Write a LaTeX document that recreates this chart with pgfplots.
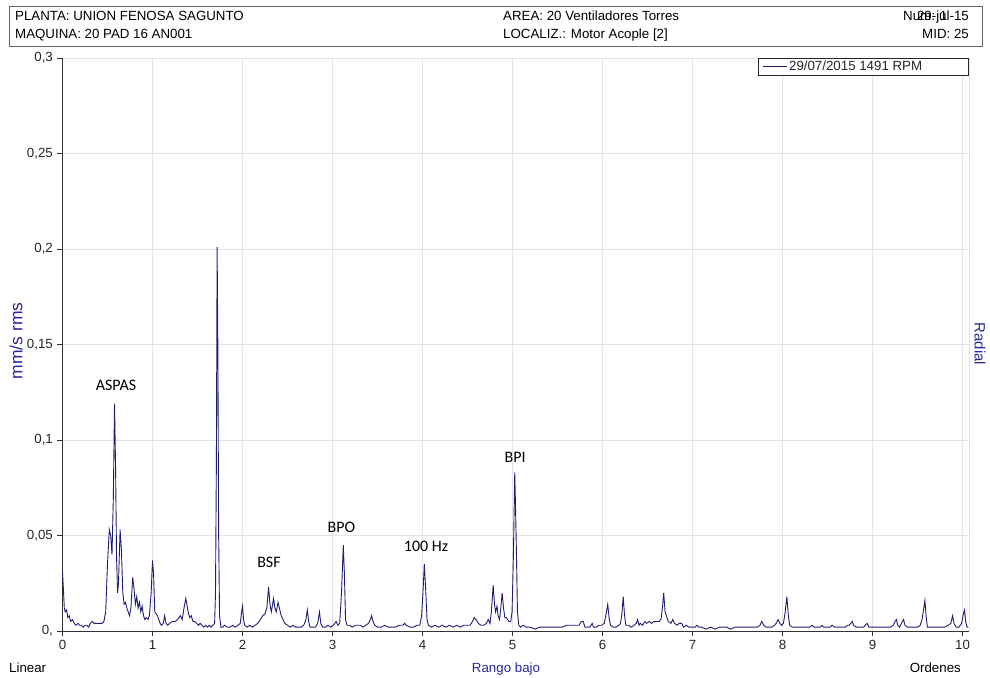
\documentclass[border=0pt]{standalone}
\usepackage{pgfplots}
\pgfplotsset{compat=1.18}
\usepackage{pgfplotstable}
\usepackage{fontspec}
\setmainfont{Liberation Sans}
\newfontfamily\calib{Carlito}
\definecolor{specline}{RGB}{30,30,115}
\definecolor{labblue}{RGB}{40,40,150}
\definecolor{gridgray}{RGB}{228,228,228}

\pgfplotstableread{
x y
0.000 0.031
0.010 0.022
0.020 0.012
0.030 0.010
0.045 0.011
0.060 0.007
0.075 0.008
0.090 0.005
0.110 0.006
0.130 0.004
0.150 0.003
0.170 0.004
0.190 0.003
0.210 0.003
0.230 0.002
0.250 0.003
0.270 0.003
0.290 0.002
0.310 0.004
0.330 0.005
0.350 0.004
0.380 0.004
0.410 0.004
0.440 0.004
0.460 0.005
0.480 0.010
0.500 0.035
0.520 0.053
0.535 0.050
0.550 0.040
0.565 0.070
0.578 0.119
0.590 0.085
0.600 0.040
0.612 0.020
0.622 0.025
0.640 0.053
0.655 0.042
0.670 0.020
0.685 0.014
0.700 0.015
0.715 0.012
0.730 0.010
0.745 0.008
0.760 0.012
0.780 0.028
0.795 0.022
0.810 0.014
0.825 0.018
0.840 0.012
0.855 0.015
0.870 0.010
0.885 0.013
0.900 0.008
0.915 0.006
0.930 0.007
0.950 0.006
0.965 0.008
0.985 0.020
1.000 0.037
1.012 0.030
1.025 0.010
1.040 0.009
1.055 0.008
1.070 0.006
1.085 0.004
1.100 0.003
1.120 0.004
1.135 0.008
1.150 0.004
1.170 0.003
1.190 0.004
1.220 0.005
1.250 0.005
1.280 0.006
1.310 0.008
1.330 0.006
1.350 0.012
1.370 0.017
1.385 0.013
1.400 0.009
1.415 0.007
1.430 0.008
1.450 0.005
1.470 0.005
1.490 0.004
1.510 0.003
1.530 0.004
1.550 0.003
1.570 0.002
1.590 0.003
1.610 0.002
1.630 0.003
1.650 0.002
1.670 0.003
1.690 0.004
1.700 0.020
1.710 0.090
1.718 0.201
1.726 0.150
1.735 0.050
1.745 0.008
1.760 0.002
1.780 0.002
1.800 0.003
1.830 0.002
1.860 0.002
1.890 0.003
1.920 0.002
1.950 0.003
1.975 0.004
1.990 0.010
2.000 0.013
2.012 0.006
2.025 0.003
2.050 0.002
2.080 0.003
2.110 0.002
2.140 0.003
2.170 0.004
2.200 0.006
2.225 0.008
2.250 0.009
2.270 0.012
2.290 0.023
2.305 0.014
2.320 0.010
2.345 0.017
2.360 0.012
2.375 0.010
2.395 0.015
2.410 0.012
2.430 0.008
2.450 0.006
2.470 0.004
2.500 0.003
2.530 0.002
2.560 0.003
2.590 0.002
2.620 0.002
2.650 0.002
2.680 0.003
2.705 0.006
2.720 0.011
2.735 0.005
2.750 0.002
2.780 0.002
2.810 0.002
2.835 0.004
2.855 0.010
2.870 0.004
2.890 0.002
2.920 0.002
2.950 0.003
2.980 0.002
3.010 0.003
3.040 0.005
3.060 0.003
3.080 0.004
3.100 0.020
3.120 0.045
3.132 0.030
3.145 0.006
3.160 0.003
3.190 0.003
3.220 0.002
3.250 0.003
3.280 0.003
3.310 0.003
3.340 0.002
3.370 0.003
3.400 0.004
3.420 0.006
3.435 0.008
3.450 0.005
3.470 0.003
3.500 0.002
3.540 0.002
3.580 0.003
3.620 0.002
3.660 0.002
3.700 0.002
3.740 0.003
3.780 0.003
3.800 0.004
3.820 0.003
3.860 0.002
3.900 0.002
3.940 0.003
3.970 0.003
3.990 0.008
4.005 0.020
4.020 0.035
4.035 0.022
4.050 0.006
4.065 0.003
4.100 0.002
4.140 0.003
4.180 0.002
4.220 0.003
4.260 0.002
4.300 0.003
4.340 0.002
4.380 0.003
4.420 0.002
4.460 0.003
4.500 0.003
4.530 0.003
4.555 0.005
4.575 0.007
4.595 0.006
4.620 0.004
4.650 0.003
4.680 0.003
4.710 0.004
4.730 0.006
4.750 0.004
4.765 0.010
4.785 0.024
4.800 0.014
4.812 0.010
4.828 0.013
4.840 0.008
4.855 0.006
4.870 0.012
4.885 0.020
4.900 0.012
4.915 0.007
4.930 0.007
4.945 0.006
4.960 0.005
4.980 0.005
4.995 0.010
5.010 0.040
5.025 0.083
5.040 0.050
5.055 0.010
5.070 0.003
5.090 0.002
5.120 0.003
5.150 0.002
5.200 0.002
5.250 0.001
5.300 0.002
5.350 0.002
5.400 0.002
5.450 0.002
5.500 0.002
5.550 0.002
5.600 0.003
5.650 0.003
5.700 0.003
5.740 0.003
5.765 0.005
5.785 0.005
5.805 0.002
5.830 0.002
5.860 0.002
5.885 0.004
5.900 0.002
5.930 0.002
5.960 0.003
5.990 0.003
6.020 0.004
6.040 0.009
6.058 0.014
6.075 0.006
6.090 0.003
6.120 0.002
6.150 0.002
6.180 0.003
6.200 0.004
6.215 0.009
6.230 0.018
6.245 0.008
6.260 0.003
6.290 0.003
6.320 0.002
6.350 0.003
6.375 0.004
6.390 0.006
6.405 0.003
6.420 0.004
6.445 0.003
6.470 0.005
6.490 0.004
6.520 0.005
6.545 0.004
6.570 0.005
6.600 0.005
6.630 0.005
6.650 0.006
6.665 0.012
6.680 0.020
6.695 0.010
6.710 0.008
6.730 0.005
6.760 0.004
6.780 0.006
6.800 0.004
6.830 0.003
6.850 0.004
6.880 0.004
6.900 0.002
6.930 0.003
6.960 0.002
7.000 0.002
7.030 0.002
7.050 0.003
7.070 0.002
7.100 0.002
7.150 0.001
7.200 0.002
7.250 0.001
7.300 0.002
7.350 0.002
7.380 0.002
7.420 0.001
7.470 0.002
7.520 0.002
7.570 0.002
7.620 0.002
7.670 0.002
7.720 0.002
7.750 0.003
7.770 0.005
7.790 0.003
7.820 0.002
7.850 0.002
7.880 0.002
7.910 0.003
7.930 0.004
7.950 0.006
7.970 0.004
7.990 0.003
8.010 0.004
8.030 0.010
8.048 0.018
8.065 0.008
8.080 0.003
8.110 0.002
8.150 0.002
8.200 0.002
8.250 0.002
8.300 0.002
8.330 0.003
8.350 0.002
8.380 0.002
8.420 0.002
8.440 0.003
8.460 0.002
8.500 0.002
8.530 0.002
8.550 0.003
8.580 0.002
8.620 0.002
8.660 0.002
8.700 0.002
8.720 0.003
8.740 0.003
8.760 0.004
8.775 0.005
8.790 0.003
8.820 0.002
8.860 0.002
8.900 0.002
8.920 0.003
8.940 0.004
8.960 0.002
9.000 0.002
9.050 0.002
9.100 0.002
9.150 0.002
9.200 0.002
9.230 0.003
9.250 0.005
9.265 0.006
9.280 0.003
9.300 0.002
9.320 0.004
9.345 0.006
9.360 0.003
9.390 0.002
9.420 0.002
9.460 0.002
9.500 0.002
9.530 0.003
9.550 0.006
9.570 0.012
9.582 0.016
9.595 0.008
9.610 0.002
9.650 0.002
9.700 0.002
9.750 0.002
9.800 0.002
9.840 0.003
9.870 0.004
9.890 0.008
9.905 0.004
9.930 0.002
9.960 0.002
9.990 0.004
10.010 0.009
10.022 0.011
10.035 0.005
10.050 0.002
10.065 0.002
}\spectrum

\begin{document}
\fontsize{13.3}{15}\selectfont
\begin{tikzpicture}
\path[use as bounding box] (0pt,0pt) rectangle (990pt,677pt);
% header box
\draw[black!60, line width=0.9pt] (9.5pt,670.5pt) rectangle (982pt,631pt);
\node[anchor=base west, inner sep=0] at (15pt,656pt) {PLANTA: UNION FENOSA SAGUNTO};
\node[anchor=base west, inner sep=0] at (15pt,638pt) {MAQUINA: 20 PAD 16 AN001};
\node[anchor=base west, inner sep=0] at (503pt,656pt) {AREA: 20 Ventiladores Torres};
\node[anchor=base west, inner sep=0] at (503pt,638pt) {LOCALIZ.: Motor Acople [2]};
\node[anchor=base west, inner sep=0] at (903pt,656pt) {Num: 1};
\node[anchor=base east, inner sep=0] at (969pt,656pt) {29-jul-15};
\node[anchor=base east, inner sep=0] at (969pt,638pt) {MID: 25};
% side and bottom labels
\node[rotate=90, text=labblue, font=\fontsize{17.5}{20}\selectfont] at (16pt,336pt) {mm/s rms};
\node[rotate=-90, text=labblue, font=\fontsize{15}{17}\selectfont] at (980pt,333pt) {Radial};
\node[anchor=base west, inner sep=0] at (9pt,5pt) {Linear};
\node[anchor=base, inner sep=0, text=labblue] at (506pt,5pt) {Rango bajo};
\node[anchor=base east, inner sep=0] at (961pt,5pt) {Ordenes};
\begin{axis}[
  at={(62.5pt,46pt)}, anchor=origin,
  scale only axis, width=906.5pt, height=573pt,
  xmin=0, xmax=10.072, ymin=0, ymax=0.3,
  axis x line*=bottom, axis y line*=left,
  axis line style={black!80, line width=0.8pt, -},
  xtick={0,1,2,3,4,5,6,7,8,9,10},
  ytick={0,0.05,0.1,0.15,0.2,0.25,0.3},
  yticklabels={{0,},{0,05},{0,1},{0,15},{0,2},{0,25},{0,3}},
  tick align=outside, major tick length=5pt,
  tick style={black!80, line width=0.8pt},
  grid=major, grid style={gridgray, line width=0.7pt},
  ticklabel style={font=\fontsize{13.3}{15}\selectfont, text=black!85},
  /pgf/number format/assume math mode=true,
  legend style={at={(rel axis cs:1,1)}, anchor=north east,
    draw=black!85, line width=0.8pt, inner xsep=4pt, inner ysep=1.2pt,
    font=\fontsize{13.3}{15}\selectfont, text=black!85, nodes={inner sep=1.5pt}},
  legend cell align=left,
  legend image code/.code={\draw[#1, line width=0.9pt] (0pt,0pt) -- (24pt,0pt);},
]
\addplot[specline, line width=0.9pt] table[x=x,y=y] {\spectrum};
\addlegendentry{\makebox[174pt][l]{29/07/2015 1491 RPM}}
\draw[black!80, line width=0.8pt] (rel axis cs:1,0) -- (rel axis cs:1,1);
\node[font=\calib\fontsize{16}{18}\selectfont] at (axis cs:0.594,0.1285) {ASPAS};
\node[font=\calib\fontsize{16}{18}\selectfont] at (axis cs:2.294,0.0361) {BSF};
\node[font=\calib\fontsize{16}{18}\selectfont] at (axis cs:3.10,0.0545) {BPO};
\node[font=\calib\fontsize{16}{18}\selectfont] at (axis cs:4.04,0.0445) {100 Hz};
\node[font=\calib\fontsize{16}{18}\selectfont] at (axis cs:5.03,0.0911) {BPI};
\end{axis}
\end{tikzpicture}
\end{document}
